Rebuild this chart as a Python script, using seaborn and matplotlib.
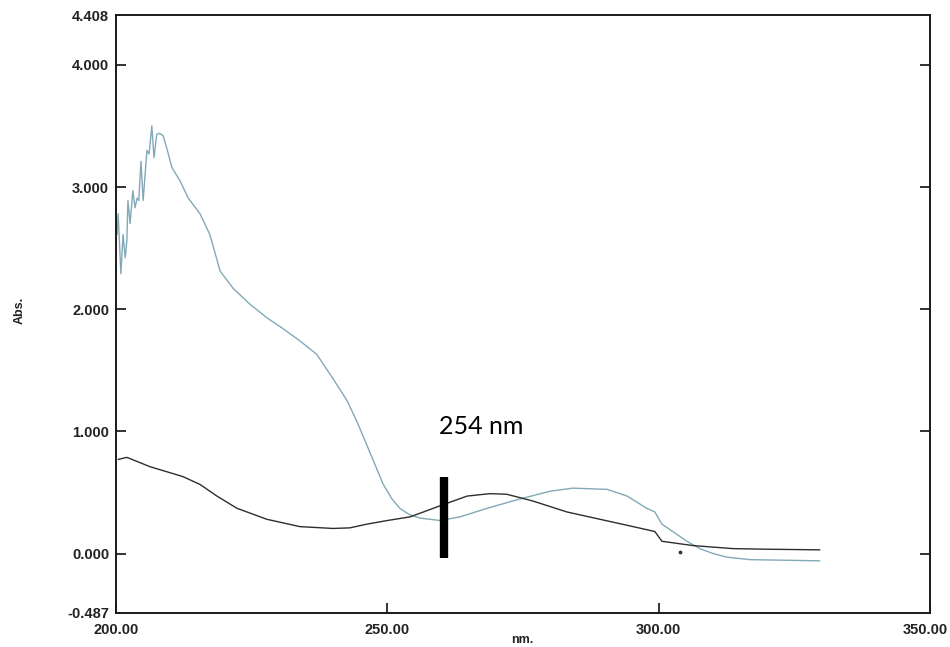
import numpy as np
import pandas as pd
import matplotlib
matplotlib.use("Agg")
import matplotlib.pyplot as plt
import matplotlib.transforms as mtransforms
import seaborn as sns

# ---------------- data ----------------
wl_sample = [200.0, 200.2, 200.4, 200.9, 201.3, 201.7, 202.0, 202.2, 202.6, 203.1,
             203.5, 203.9, 204.2, 204.6, 205.0, 205.7, 206.1, 206.6, 207.0, 207.5,
             208.0, 208.7, 209.4, 210.3, 211.8, 213.3, 215.5, 217.3, 219.2, 221.6,
             224.7, 227.8, 230.8, 233.9, 237.0, 240.0, 242.6, 244.4, 246.2, 247.8,
             249.2, 250.8, 252.3, 254.0, 256.0, 259.7, 263.4, 268.4, 273.9, 280.0,
             284.2, 290.5, 294.2, 297.8, 299.3, 300.6, 302.6, 305.2, 307.6, 310.0,
             312.6, 316.8, 323.0, 329.7]
abs_sample = [2.75, 2.61, 2.78, 2.29, 2.61, 2.42, 2.56, 2.89, 2.70, 2.97,
              2.83, 2.91, 2.89, 3.21, 2.89, 3.30, 3.27, 3.50, 3.24, 3.43,
              3.44, 3.42, 3.31, 3.16, 3.05, 2.91, 2.78, 2.61, 2.31, 2.17,
              2.04, 1.93, 1.84, 1.74, 1.63, 1.43, 1.25, 1.08, 0.89, 0.72,
              0.57, 0.45, 0.37, 0.32, 0.29, 0.27, 0.30, 0.37, 0.44, 0.51,
              0.535, 0.525, 0.47, 0.37, 0.34, 0.24, 0.18, 0.10, 0.04, 0.00,
              -0.03, -0.05, -0.055, -0.06]

wl_ref = [200.4, 202.0, 206.3, 212.3, 215.5, 218.6, 222.3, 227.8, 233.9, 240.0,
          243.1, 246.2, 250.0, 254.2, 260.3, 264.7, 268.9, 272.0, 276.8, 283.1,
          289.2, 295.3, 299.3, 300.6, 306.3, 313.7, 320.0, 329.7]
abs_ref = [0.77, 0.787, 0.71, 0.63, 0.565, 0.47, 0.37, 0.28, 0.22, 0.205,
           0.21, 0.24, 0.27, 0.30, 0.40, 0.47, 0.49, 0.485, 0.43, 0.34,
           0.28, 0.22, 0.18, 0.10, 0.065, 0.04, 0.035, 0.03]

dot_x = [304.0]
dot_y = [0.01]

marker_x = [260.4]
marker_ymin = [-0.033]
marker_ymax = [0.623]
marker_label = "254 nm"

x_ticks = [200, 250, 300, 350]
y_ticks = [0, 1, 2, 3, 4]
y_ends = [-0.487, 4.408]

# ---------------- plot ----------------
sns.set_theme(style="white")
plt.rcParams["font.family"] = ["Liberation Sans", "DejaVu Sans"]

fig = plt.figure(figsize=(9.5, 6.47), dpi=100)
ax = fig.add_axes([116 / 950, 1 - 613 / 647, (930 - 116) / 950, (613 - 15) / 647])

df_s = pd.DataFrame({"nm": wl_sample, "Abs": abs_sample})
df_r = pd.DataFrame({"nm": wl_ref, "Abs": abs_ref})
sns.lineplot(data=df_s, x="nm", y="Abs", ax=ax, color="#82a9b8", linewidth=1.0,
             estimator=None, sort=False)
sns.lineplot(data=df_r, x="nm", y="Abs", ax=ax, color="#2e2e2e", linewidth=1.0,
             estimator=None, sort=False)
ax.scatter(dot_x, dot_y, s=3, color="#333333", zorder=3)

ax.vlines(marker_x, marker_ymin, marker_ymax, colors="black", linewidth=6)
ax.text(439 / 950, 1 - 427 / 647, marker_label, transform=fig.transFigure,
        fontsize=18, family=["Lato", "DejaVu Sans"], va="center", ha="left",
        color="black")

ax.set_xlim(200, 350)
ax.set_ylim(y_ends[0], y_ends[1])

ax.set_xticks(x_ticks)
ax.set_xticklabels([f"{v:.2f}" for v in x_ticks])
ax.set_yticks(y_ticks)
ax.set_yticklabels([f"{v:.3f}" for v in y_ticks])
ax.set_yticks(y_ends, minor=True)
ax.set_yticklabels([f"{v:.3f}" for v in y_ends], minor=True)

ax.tick_params(axis="y", which="major", direction="in", length=7, width=1.3,
               left=True, right=True, labelsize=10.5, pad=5, colors="#222222")
ax.tick_params(axis="y", which="minor", length=0, labelsize=10.5, pad=5,
               colors="#222222")
ax.tick_params(axis="x", which="major", direction="in", length=7, width=1.3,
               bottom=True, labelsize=10.5, pad=7, colors="#222222")
for lab in ax.get_xticklabels() + ax.get_yticklabels() + ax.get_yticklabels(minor=True):
    lab.set_fontweight("bold")

for sp in ax.spines.values():
    sp.set_visible(True)
    sp.set_color("#1a1a1a")
    sp.set_linewidth(1.4)

ax.set_xlabel("")
ax.set_ylabel("")
fig.text(20 / 950, 1 - 310 / 647, "Abs.", rotation=90, ha="center", va="center",
         fontsize=9, fontweight="bold", color="#222222")
fig.text(522 / 950, 1 - 640 / 647, "nm.", ha="center", va="center",
         fontsize=9, fontweight="bold", color="#222222")

# keep the last x tick label inside the figure (as in the reference)
last = ax.xaxis.get_major_ticks()[-1].label1
last.set_horizontalalignment("right")
last.set_transform(last.get_transform() +
                   mtransforms.ScaledTranslation(18 / 100, 0, fig.dpi_scale_trans))

fig.savefig("out.png", dpi=100)
